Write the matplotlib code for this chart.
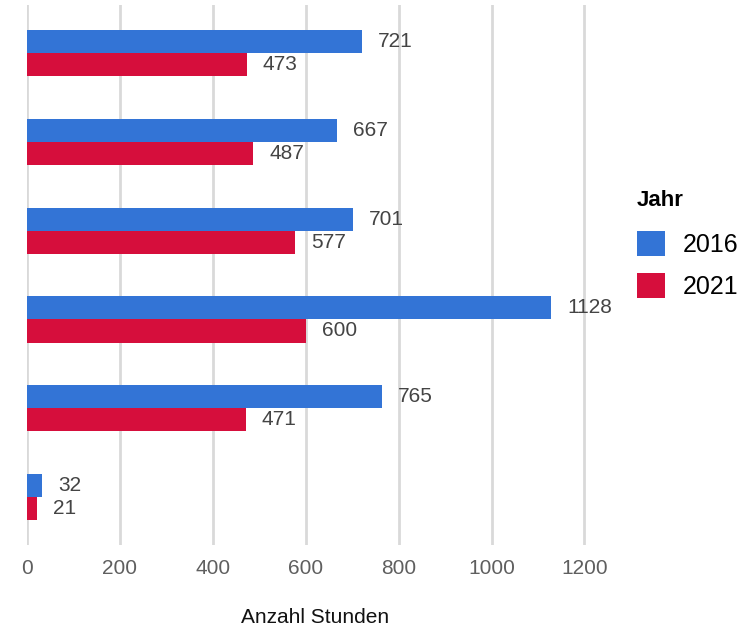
import matplotlib
matplotlib.use("Agg")
import matplotlib.pyplot as plt
import numpy as np

plt.rcParams['font.family'] = ['Liberation Sans', 'DejaVu Sans']

groups = ['A', 'B', 'C', 'D', 'E', 'F']
werte_2016 = [721, 667, 701, 1128, 765, 32]
werte_2021 = [473, 487, 577, 600, 471, 21]
jahre = ['2016', '2021']
farben = ['#3374D6', '#D60E3C']

fig = plt.figure(figsize=(7.54, 6.3), dpi=100)
ax = fig.add_axes([27 / 754, 1 - 545 / 630, (603 - 27) / 754, 540 / 630])

y = np.arange(len(groups))
h = 0.26
b1 = ax.barh(y - h / 2, werte_2016, height=h, color=farben[0], label=jahre[0], zorder=2)
b2 = ax.barh(y + h / 2, werte_2021, height=h, color=farben[1], label=jahre[1], zorder=2)

for bars, vals in ((b1, werte_2016), (b2, werte_2021)):
    for bar, v in zip(bars, vals):
        ax.annotate(str(v), (bar.get_width(), bar.get_y() + bar.get_height() / 2),
                    xytext=(16, 0), textcoords='offset pixels', va='center', ha='left',
                    fontsize=15, color='#444444')

ax.set_ylim(len(groups) - 0.46, -0.54)
ax.set_xlim(0, 1240)
ax.set_xticks([0, 200, 400, 600, 800, 1000, 1200])
ax.set_yticks([])
ax.grid(axis='x', color='#d9d9d9', linewidth=2, zorder=0)
ax.set_axisbelow(True)
for s in ax.spines.values():
    s.set_visible(False)
ax.tick_params(axis='x', length=0, pad=10, labelsize=15, labelcolor='#5f5f5f')
ax.set_xlabel('Anzahl Stunden', fontsize=15, labelpad=22, color='#111111')

leg = fig.legend(handles=[b1, b2], labels=jahre, title='Jahr', loc='upper left',
                 bbox_to_anchor=(624 / 754, 1 - 178 / 630), frameon=False,
                 fontsize=18, handlelength=1.15, handleheight=1.15, handletextpad=0.7,
                 borderpad=0, labelspacing=0.65, alignment='left',
                 title_fontproperties={'weight': 'bold', 'size': 16})
leg._legend_box.sep = 14

fig.savefig('out.png', dpi=100)
